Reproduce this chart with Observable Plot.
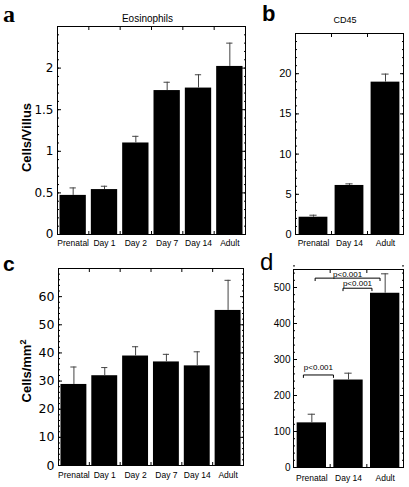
<!DOCTYPE html>
<html>
<head>
<meta charset="utf-8">
<script src="https://cdn.jsdelivr.net/npm/d3@7"></script>
<script src="https://cdn.jsdelivr.net/npm/@observablehq/plot@0.6"></script>
<style>
  body { margin: 0; background: #fff; }
  #wrap { position: relative; width: 409px; height: 487px; background: #fff; overflow: hidden; }
  .pnl { position: absolute; }
  #ov { position: absolute; left: 0; top: 0; pointer-events: none; }
</style>
</head>
<body>
<div id="wrap">
  <div class="pnl" id="pa" style="left:0;top:0"></div>
  <div class="pnl" id="pb" style="left:260px;top:0"></div>
  <div class="pnl" id="pc" style="left:0;top:250px"></div>
  <div class="pnl" id="pd" style="left:260px;top:250px"></div>
  <svg id="ov" width="409" height="487">
    <text x="3" y="22" font-family="Liberation Serif" font-weight="bold" font-size="24">a</text>
    <text x="262" y="20.5" font-family="Liberation Sans" font-weight="bold" font-size="22">b</text>
    <text x="3" y="271" font-family="Liberation Sans" font-weight="bold" font-size="21">c</text>
    <text x="260" y="270" font-family="Liberation Sans" font-size="24">d</text>
    <text x="147.5" y="22" text-anchor="middle" font-family="Liberation Sans" font-size="10">Eosinophils</text>
    <text x="345" y="23" text-anchor="middle" font-family="Liberation Sans" font-size="9">CD45</text>
    <text transform="translate(30.5,137.5) rotate(-90)" text-anchor="middle" font-family="Liberation Sans" font-weight="bold" font-size="13">Cells/Villus</text>
    <text transform="translate(30.5,371) rotate(-90)" text-anchor="middle" font-family="Liberation Sans" font-weight="bold" font-size="13">Cells/mm<tspan dy="-5" font-size="9">2</tspan></text>
  </svg>
</div>
<script>
// ---- data ----
const catsSix = ["Prenatal", "Day 1", "Day 2", "Day 7", "Day 14", "Adult"];
const catsThree = ["Prenatal", "Day 14", "Adult"];

const eosVillusMean = [0.47, 0.54, 1.10, 1.73, 1.76, 2.02];
const eosVillusErr  = [0.56, 0.58, 1.18, 1.83, 1.92, 2.30];

const cd45VillusMean = [2.15, 6.1, 18.95];
const cd45VillusErr  = [2.4, 6.3, 19.95];

const eosAreaMean = [28.8, 31.9, 38.9, 36.8, 35.4, 55.1];
const eosAreaErr  = [35.0, 34.8, 42.2, 39.5, 40.4, 65.8];

const cd45AreaMean = [124, 243, 484];
const cd45AreaErr  = [148, 262, 538];

const ticksA = [0, 0.5, 1, 1.5, 2];
const ticksB = [0, 5, 10, 15, 20];
const ticksC = [0, 10, 20, 30, 40, 50, 60];
const ticksD = [0, 100, 200, 300, 400, 500];

const bracketFrom  = [-0.23, 0.09, 0.85];
const bracketTo    = [0.59, 1.86, 1.64];
const bracketLevel = [257, 526, 498];
const bracketTextLevel = [277, 535, 510];
const bracketText  = ["p<0.001", "p<0.001", "p<0.001"];

// ---- drawing ----
function minorTicks(max, step) {
  const n = Math.round(max / step);
  return d3.range(n + 1).map(k => +(k * step).toFixed(6));
}

function panel(o) {
  const n = o.cats.length;
  const idx = d3.range(n);
  const rows = idx.map(i => ({i, m: o.mean[i], e: o.err[i]}));
  const bounds = d3.range(n - 1).map(i => i + 0.5);
  const minors = minorTicks(o.yDomain[1], o.minorStep);
  return Plot.plot({
    width: o.width, height: o.height,
    marginLeft: o.mL, marginRight: o.mR, marginTop: o.mT, marginBottom: o.mB,
    x: {domain: [-0.5, n - 0.5]},
    y: {domain: o.yDomain},
    style: {background: "white", color: "black", fontFamily: "Liberation Sans", overflow: "visible"},
    marks: [
      Plot.rect(rows, {x1: d => d.i - o.half, x2: d => d.i + o.half, y1: 0, y2: "m", fill: "black"}),
      Plot.ruleX(rows, {x: "i", y1: "m", y2: "e", stroke: "#444"}),
      Plot.ruleY(rows, {y: "e", x1: d => d.i - 0.1, x2: d => d.i + 0.1, stroke: "#444"}),
      Plot.frame({stroke: "black"}),
      Plot.axisY(o.ticks, {anchor: "left", tickSize: -4, fill: "none", label: null}),
      Plot.axisY(o.ticks, {anchor: "right", tickSize: -4, fill: "none", label: null}),
      Plot.axisY(minors, {anchor: "left", tickSize: -2, fill: "none", label: null}),
      Plot.axisY(minors, {anchor: "right", tickSize: -2, fill: "none", label: null}),
      Plot.axisY(o.ticks, {anchor: "left", tickSize: 0, tickPadding: o.yPad, label: null,
        tickFormat: d => String(d), fontSize: o.yFont, fontFamily: o.yFamily}),
      Plot.axisX(idx, {anchor: "bottom", tickSize: 0, tickPadding: o.xPad, label: null,
        tickFormat: i => o.cats[i], fontSize: 8.5, fontFamily: "Liberation Sans"}),
      Plot.axisX(bounds, {anchor: "bottom", tickSize: -3, fill: "none", label: null}),
      Plot.axisX(bounds, {anchor: "top", tickSize: -3, fill: "none", label: null}),
      ...(o.extra || [])
    ]
  });
}

document.getElementById("pa").appendChild(panel({
  cats: catsSix, mean: eosVillusMean, err: eosVillusErr, yDomain: [0, 2.5],
  ticks: ticksA, minorStep: 0.1, width: 250, height: 250,
  mL: 57, mR: 5, mT: 26, mB: 16, half: 0.42, yPad: 4, xPad: 5,
  yFont: 12, yFamily: "DejaVu Sans"
}));

document.getElementById("pb").appendChild(panel({
  cats: catsThree, mean: cd45VillusMean, err: cd45VillusErr, yDomain: [0, 25],
  ticks: ticksB, minorStep: 1, width: 149, height: 250,
  mL: 35, mR: 6, mT: 33, mB: 16, half: 0.4, yPad: 4, xPad: 5,
  yFont: 11, yFamily: "Liberation Sans"
}));

document.getElementById("pc").appendChild(panel({
  cats: catsSix, mean: eosAreaMean, err: eosAreaErr, yDomain: [0, 70],
  ticks: ticksC, minorStep: 2, width: 250, height: 237,
  mL: 58, mR: 7, mT: 18, mB: 22, half: 0.42, yPad: 4, xPad: 6,
  yFont: 12.5, yFamily: "DejaVu Sans"
}));

const brackets = d3.range(bracketFrom.length).map(k => ({
  a: bracketFrom[k], b: bracketTo[k], y: bracketLevel[k], ty: bracketTextLevel[k], t: bracketText[k]
}));
const drop = 8;
document.getElementById("pd").appendChild(panel({
  cats: catsThree, mean: cd45AreaMean, err: cd45AreaErr, yDomain: [0, 550],
  ticks: ticksD, minorStep: 20, width: 149, height: 237,
  mL: 33, mR: 6, mT: 19, mB: 20, half: 0.4, yPad: 3, xPad: 7,
  yFont: 10, yFamily: "Liberation Sans",
  extra: [
    Plot.link(brackets, {x1: "a", x2: "b", y1: "y", y2: "y", stroke: "black"}),
    Plot.link(brackets, {x1: "a", x2: "a", y1: "y", y2: d => d.y - drop, stroke: "black"}),
    Plot.link(brackets, {x1: "b", x2: "b", y1: "y", y2: d => d.y - drop, stroke: "black"}),
    Plot.text(brackets, {x: d => (d.a + d.b) / 2, y: "ty", text: "t", fontSize: 8, fontFamily: "Liberation Sans", fill: "black"})
  ]
}));
</script>
</body>
</html>
